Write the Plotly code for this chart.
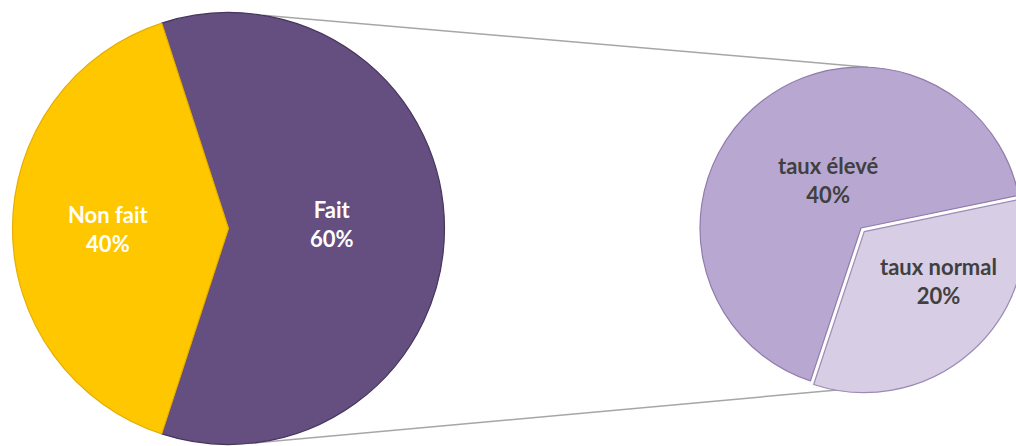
import plotly.graph_objects as go
import math

# Main split
main_labels = ["Fait", "Non fait"]
main_values = [60, 40]

# Breakdown of "Fait" (shares of the overall total)
sub_labels = ["taux normal", "taux élevé"]
sub_values = [20, 40]

# Colours
main_colors = ["#654E80", "#FFC700"]
main_edges = ["#46355C", "#E6AE00"]
main_text = "white"
sub_colors = ["#D7CDE5", "#B8A8D1"]
sub_edges = ["#9C8BB6", "#8F7BAD"]
sub_text = "#404040"
sub_pull = [0.03, 0]

# Canvas and pie geometry (pixels, y measured from the top)
W, H = 1030, 446
main_cx, main_cy, main_r = 228.5, 228.5, 216
sub_cx, sub_cy, sub_r = 861, 228, 161

# Label anchors, as offsets from the pie centre in units of the radius
main_label_pos = [(0.478, -0.02), (-0.556, 0.0)]
sub_label_pos = [(0.481, 0.329), (-0.199, -0.298)]


def domain(cx, cy, half):
    return dict(x=[(cx - half) / W, (cx + half) / W],
                y=[1 - (cy + half) / H, 1 - (cy - half) / H])


def on_circle(cx, cy, r, deg):
    a = math.radians(deg)
    return (cx + r * math.cos(a)) / W, 1 - (cy - r * math.sin(a)) / H


def labels_for(labels, values, pos, cx, cy, r, color):
    out = []
    for lab, val, (dx, dy) in zip(labels, values, pos):
        out.append(dict(
            xref="paper", yref="paper",
            x=(cx + dx * r) / W, y=1 - (cy + dy * r) / H,
            xanchor="center", yanchor="middle", showarrow=False,
            text=f"{lab}<br>{val}%", align="center",
            font=dict(family="Lato", size=22, color=color, weight="bold"),
        ))
    return out


fig = go.Figure()

fig.add_trace(go.Pie(
    labels=main_labels, values=main_values, sort=False,
    direction="clockwise", rotation=-18,
    domain=domain(main_cx, main_cy, main_r),
    marker=dict(colors=main_colors, line=dict(color=main_edges, width=1.2)),
    textinfo="none", hoverinfo="label+value", showlegend=False,
))

fig.add_trace(go.Pie(
    labels=sub_labels, values=sub_values, sort=False,
    direction="clockwise", rotation=78.3, pull=sub_pull,
    domain=domain(sub_cx, sub_cy, sub_r * (1 + max(sub_pull))),
    marker=dict(colors=sub_colors, line=dict(color=sub_edges, width=1.2)),
    textinfo="none", hoverinfo="label+value", showlegend=False,
))

# Connector lines between the two pies
connectors = [(80.8, 87.5), (-84.0, -93.5)]
shapes = []
for a_main, a_sub in connectors:
    x0, y0 = on_circle(main_cx, main_cy, main_r, a_main)
    x1, y1 = on_circle(sub_cx, sub_cy, sub_r, a_sub)
    shapes.append(dict(type="line", xref="paper", yref="paper",
                       x0=x0, y0=y0, x1=x1, y1=y1, layer="below",
                       line=dict(color="#A6A6A6", width=1.5)))

annotations = (
    labels_for(main_labels, main_values, main_label_pos,
               main_cx, main_cy, main_r, main_text)
    + labels_for(sub_labels, sub_values, sub_label_pos,
                 sub_cx, sub_cy, sub_r, sub_text)
)

fig.update_layout(
    width=W, height=H,
    margin=dict(l=0, r=0, t=0, b=0),
    paper_bgcolor="white", plot_bgcolor="white",
    shapes=shapes, annotations=annotations,
)

fig.write_html(
    "out.html",
    config={"displayModeBar": False},
    post_script="document.documentElement.style.overflow='hidden';"
                "document.body.style.overflow='hidden';"
                "document.body.style.margin='0';",
)
